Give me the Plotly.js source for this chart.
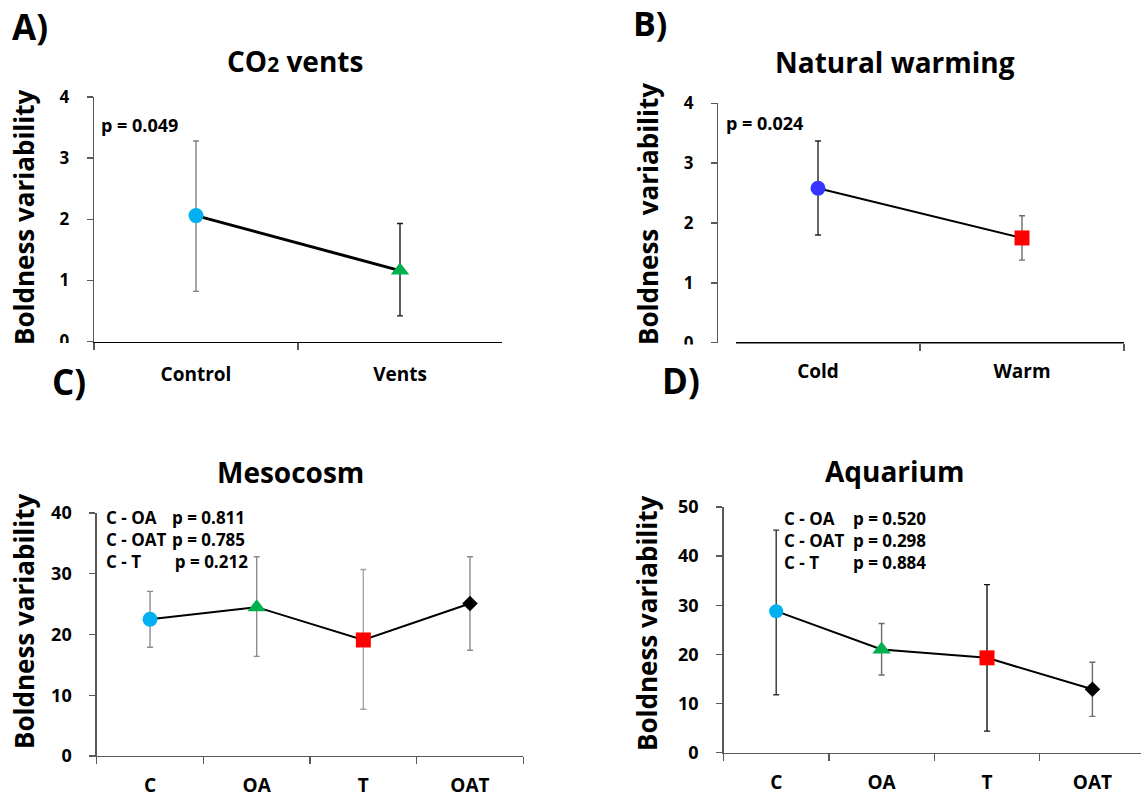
<!DOCTYPE html>
<html>
<head>
<meta charset="utf-8">
<script src="https://cdn.plot.ly/plotly-3.0.1.min.js"></script>
<style>
  html, body { margin: 0; padding: 0; background: #fff; }
  #chart { width: 1141px; height: 799px; }
</style>
</head>
<body>
<div id="chart"></div>
<script>
// ---- Panel A: CO2 vents ----
const catsA = ['Control', 'Vents'];
const meanA = [2.06, 1.16];
const upperA = [3.28, 1.93];
const lowerA = [0.82, 0.42];

// ---- Panel B: Natural warming ----
const catsB = ['Cold', 'Warm'];
const meanB = [2.58, 1.75];
const upperB = [3.37, 2.12];
const lowerB = [1.80, 1.38];

// ---- Panel C: Mesocosm ----
const catsC = ['C', 'OA', 'T', 'OAT'];
const meanC = [22.5, 24.5, 19.1, 25.1];
const upperC = [27.1, 32.8, 30.7, 32.8];
const lowerC = [17.9, 16.4, 7.7, 17.4];

// ---- Panel D: Aquarium ----
const catsD = ['C', 'OA', 'T', 'OAT'];
const meanD = [28.8, 21.0, 19.3, 12.9];
const upperD = [45.3, 26.3, 34.2, 18.4];
const lowerD = [11.8, 15.8, 4.4, 7.4];

const pTextA = 'p = 0.049';
const pTextB = 'p = 0.024';
const pairLabels = ['C - OA', 'C - OAT', 'C - T'];
const pValuesC = ['p = 0.811', 'p = 0.785', 'p = 0.212'];
const pValuesD = ['p = 0.520', 'p = 0.298', 'p = 0.884'];

// ---- styling ----
const W = 1141, H = 799;
const FONT = '"Open Sans", Lato, sans-serif';
const fx = p => p / W;
const fy = p => 1 - p / H;

const CYAN = '#00B0F0', GREEN = '#00B050', RED = '#FF0000', BLUE = '#3535FF', BLACK = '#000000';
const AXIS = '#595959';

const traces = [];
function addPanel(ax, cats, mean, upper, lower, symbols, sizes, colors, errColors, lineW) {
  const xa = 'x' + ax, ya = 'y' + ax;
  traces.push({
    type: 'scatter', mode: 'lines', x: cats, y: mean, xaxis: xa, yaxis: ya,
    line: { color: BLACK, width: lineW }, hoverinfo: 'skip'
  });
  cats.forEach((c, i) => {
    traces.push({
      type: 'scatter', mode: 'markers', x: [c], y: [mean[i]], xaxis: xa, yaxis: ya,
      marker: { symbol: symbols[i], size: sizes[i], color: colors[i], line: { width: 0 } },
      error_y: {
        type: 'data', symmetric: false,
        array: [upper[i] - mean[i]], arrayminus: [mean[i] - lower[i]],
        color: errColors[i], thickness: 1.4, width: 3
      },
      cliponaxis: false
    });
  });
}

addPanel('', catsA, meanA, upperA, lowerA, ['circle', 'triangle-up'], [15, 16],
  [CYAN, GREEN], ['#7F7F7F', '#1A1A1A'], 3);
addPanel('2', catsB, meanB, upperB, lowerB, ['circle', 'square'], [15, 15],
  [BLUE, RED], ['#262626', '#6B6B6B'], 2);
addPanel('3', catsC, meanC, upperC, lowerC, ['circle', 'triangle-up', 'square', 'diamond'], [15, 16, 15, 12],
  [CYAN, GREEN, RED, BLACK], ['#8C8C8C', '#8C8C8C', '#A3A3A3', '#8C8C8C'], 2);
addPanel('4', catsD, meanD, upperD, lowerD, ['circle', 'triangle-up', 'square', 'diamond'], [14, 16, 15, 12],
  [CYAN, GREEN, RED, BLACK], ['#333333', '#6B6B6B', '#111111', '#6B6B6B'], 2);

function xAxis(anchor, domPx, range, lineColor, showLine, labelSize, standoff) {
  return {
    type: 'category', anchor: anchor, domain: [fx(domPx[0]), fx(domPx[1])], range: range,
    showline: showLine, linecolor: lineColor, linewidth: 1.4,
    ticks: 'outside', tickson: 'boundaries', ticklen: 7, tickwidth: 1.4, tickcolor: AXIS,
    tickfont: { family: FONT, size: labelSize, color: '#000', weight: 'bold' },
    ticklabelstandoff: standoff,
    showgrid: false, zeroline: false, fixedrange: true
  };
}
function yAxis(anchor, domPx, max, dtick, labelSize, extra) {
  return Object.assign({
    anchor: anchor, domain: [fy(domPx[1]), fy(domPx[0])], range: [0, max],
    tickmode: 'linear', tick0: 0, dtick: dtick,
    showline: true, linecolor: AXIS, linewidth: 1.4,
    ticks: 'outside', ticklen: 6, tickwidth: 1.4, tickcolor: AXIS,
    tickfont: { family: FONT, size: labelSize, color: '#000', weight: 'bold' },
    ticklabelstandoff: 14,
    showgrid: false, zeroline: false, fixedrange: true
  }, extra || {});
}

function txt(text, x, y, size, opts) {
  return Object.assign({
    text: text, xref: 'paper', yref: 'paper', x: fx(x), y: fy(y),
    xanchor: 'center', yanchor: 'middle', showarrow: false,
    font: { family: FONT, size: size, color: '#000', weight: 'bold' }
  }, opts || {});
}

const annotations = [
  // panel letters
  txt('A)', 10, 26, 35, { xanchor: 'left' }),
  txt('B)', 631, 23, 34, { xanchor: 'left' }),
  txt('C)', 50, 382, 35, { xanchor: 'left' }),
  txt('D)', 660, 380, 35, { xanchor: 'left' }),
  // panel titles
  txt('CO<span style="font-size:21px">2</span> vents', 295, 61, 28),
  txt('Natural warming', 895, 62, 28),
  txt('Mesocosm', 290, 472, 28),
  txt('Aquarium', 895, 471, 28),
  // y-axis titles
  txt('Boldness variability', 24, 218, 26, { textangle: -90 }),
  txt('Boldness  variability', 648, 214, 26, { textangle: -90 }),
  txt('Boldness variability', 24, 622, 26, { textangle: -90 }),
  txt('Boldness variability', 647, 624, 26, { textangle: -90 }),
  // p-values
  txt(pTextA, 99, 125, 18, { xanchor: 'left' }),
  txt(pTextB, 724, 123, 18, { xanchor: 'left' }),
  // pairwise comparisons: one column of pairs, one column of p-values
  txt(pairLabels.join('<br>'), 104, 539, 17, { xanchor: 'left', align: 'left' }),
  txt(pValuesC.slice(0, 2).concat('&#8201;' + pValuesC[2]).join('<br>'), 170, 539, 17, { xanchor: 'left', align: 'left' }),
  txt(pairLabels.join('<br>'), 782, 540, 17, { xanchor: 'left', align: 'left' }),
  txt(pValuesD.join('<br>'), 851, 540, 17, { xanchor: 'left', align: 'left' })
];

const layout = {
  width: W, height: H, margin: { l: 0, r: 0, t: 0, b: 0 },
  paper_bgcolor: '#fff', plot_bgcolor: 'rgba(0,0,0,0)', showlegend: false,
  xaxis: xAxis('y', [94, 502], [-0.5, 1.5], '#000', true, 19, 15),
  yaxis: yAxis('x', [97, 341.5], 4, 1, 17),
  xaxis2: xAxis('y2', [736, 1124], [-0.402, 1.5], '#000', false, 19, 15),
  yaxis2: yAxis('free', [103.3, 342.7], 4, 1, 17, { position: fx(717) }),
  xaxis3: xAxis('y3', [96.7, 523.3], [-0.5, 3.5], AXIS, true, 19, 12),
  yaxis3: yAxis('x3', [513, 756], 40, 10, 18),
  xaxis4: xAxis('y4', [723.5, 1141], [-0.5, 3.461], AXIS, true, 19, 12),
  yaxis4: yAxis('x4', [507, 752.7], 50, 10, 18),
  shapes: [
    // x-axis baseline of panel B, which starts just right of its y axis
    { type: 'line', xref: 'x2', yref: 'y2 domain', x0: -0.402, x1: 1.5, y0: 0, y1: 0,
      line: { color: '#000', width: 1.4 }, layer: 'above' },
    // the zero labels of the two top panels sit under the frame edge
    { type: 'rect', xref: 'paper', yref: 'paper', x0: fx(55), x1: fx(93), y0: fy(360), y1: fy(343),
      line: { width: 0 }, fillcolor: '#fff', layer: 'above' },
    { type: 'rect', xref: 'paper', yref: 'paper', x0: fx(675), x1: fx(714), y0: fy(360), y1: fy(344.5),
      line: { width: 0 }, fillcolor: '#fff', layer: 'above' }
  ],
  annotations: annotations
};

Plotly.newPlot('chart', traces, layout, { staticPlot: true, displayModeBar: false });
</script>
</body>
</html>
